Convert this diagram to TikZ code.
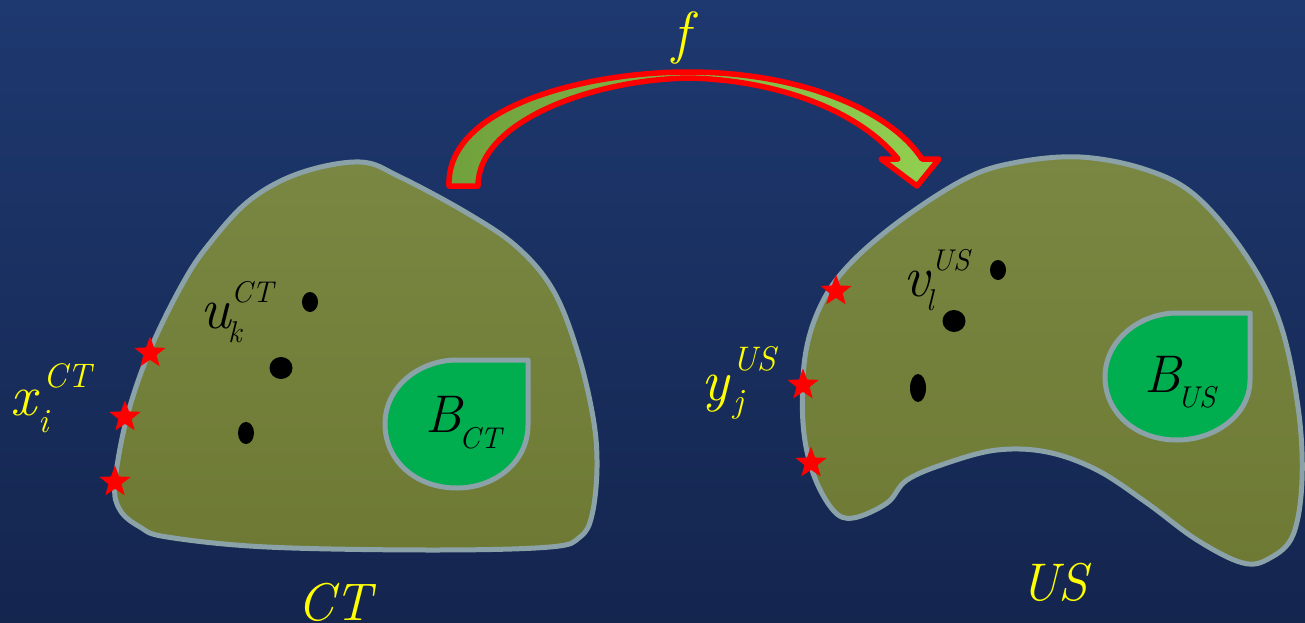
\documentclass[tikz,border=0pt]{standalone}
\usetikzlibrary{shapes.geometric}
\definecolor{bgtop}{RGB}{30,57,112}
\definecolor{bgbot}{RGB}{20,37,78}
\definecolor{oltop}{RGB}{121,135,66}
\definecolor{olbot}{RGB}{110,122,52}
\definecolor{edge}{RGB}{138,162,168}
\definecolor{bgreen}{RGB}{0,174,80}
\definecolor{arrL}{RGB}{112,160,60}
\definecolor{arrR}{RGB}{146,208,80}
\definecolor{ylw}{RGB}{255,255,0}
\begin{document}
\begin{tikzpicture}[x=1pt,y=-1pt,
  big/.style={anchor=base west,inner sep=0pt,font=\fontsize{58}{62}\selectfont\itshape},
  mid/.style={anchor=base west,inner sep=0pt,font=\fontsize{53}{58}\selectfont\itshape},
  small/.style={anchor=base west,inner sep=0pt,font=\fontsize{34}{38}\selectfont\itshape},
  tiny/.style={anchor=base west,inner sep=0pt,font=\fontsize{30}{34}\selectfont\itshape},
  starmark/.style={star,star points=5,star point ratio=2.4,fill=red,draw=none,minimum size=33pt,inner sep=0pt},
  dotmark/.style={ellipse,fill=black,draw=none,inner sep=0pt},
  blob/.style={draw=edge,line width=5pt,top color=oltop,bottom color=olbot},
  drop/.style={draw=edge,line width=5pt,fill=bgreen,line join=round}]
\useasboundingbox (0,0) rectangle (1305,623);
\shade[top color=bgtop,bottom color=bgbot] (0,0) rectangle (1305,623);

% CT region
\draw[blob] plot[smooth cycle,tension=0.6] coordinates {
 (360,162) (400,177) (467,213) (517,247) (553,290) (577,350) (593,417) (597,467)
 (592,515) (580,537) (550,547) (433,550) (267,547) (167,537) (140,527) (120,510)
 (115,483) (127,417) (150,350) (183,283) (210,243) (250,200) (300,173)};
% US region
\draw[blob] plot[smooth cycle,tension=0.6] coordinates {
 (1080,157) (1147,170) (1197,197) (1247,257) (1280,323) (1298,407) (1302,480)
 (1293,535) (1270,558) (1243,563) (1197,540) (1147,503) (1097,470) (1047,452)
 (997,450) (947,463) (907,480) (887,503) (853,518) (833,510) (813,473) (803,423)
 (805,357) (820,307) (847,267) (897,223) (963,180) (1013,163)};

% B regions (teardrops)
\draw[drop] (528,360) -- (528,425) .. controls (528,462) and (495,488) .. (457,488)
  .. controls (415,488) and (385,460) .. (385,424) .. controls (385,386) and (420,360) .. (457,360) -- cycle;
\draw[drop] (1250,313) -- (1250,380) .. controls (1250,415) and (1215,440) .. (1177,440)
  .. controls (1135,440) and (1105,412) .. (1105,377) .. controls (1105,340) and (1140,313) .. (1177,313) -- cycle;

% curved block arrow f
\draw[draw=red,line width=5.5pt,line join=round,left color=arrL,right color=arrR]
 (449,186) .. controls (446,105) and (590,72) .. (688,72)
 .. controls (800,72) and (890,110) .. (922,159) -- (939,159) -- (917,186) -- (881,159) -- (898,159)
 .. controls (860,112) and (780,80) .. (688,78)
 .. controls (590,80) and (478,122) .. (478,186) -- cycle;

% dots
\node[dotmark,minimum width=16pt,minimum height=20pt] (c1) at (310,302) {};
\node[dotmark,minimum width=23pt,minimum height=22pt] (c2) at (281,368) {};
\node[dotmark,minimum width=16pt,minimum height=22pt] (c3) at (246,433) {};
\node[dotmark,minimum width=16pt,minimum height=20pt] (u1) at (998,270) {};
\node[dotmark,minimum width=23pt,minimum height=22pt] (u2) at (954,321) {};
\node[dotmark,minimum width=16pt,minimum height=28pt] (u3) at (918,388) {};

% stars
\node[starmark] (s1) at (150,353) {};
\node[starmark] (s2) at (125,417) {};
\node[starmark] (s3) at (115,482) {};
\node[starmark] (s4) at (836,291) {};
\node[starmark] (s5) at (803,385) {};
\node[starmark] (s6) at (811,463) {};

% labels
\node[big,text=ylw] (fl) at (672,53) {f};
\node[mid,text=ylw] (ctl) at (297,620) {CT};
\node[mid,text=ylw] (usl) at (1020,600) {US};

\node[big,text=ylw] (xm) at (10,415) {x};
\node[small,text=ylw] (xs) at (43,387) {CT};
\node[small,text=ylw] (xb) at (38,432) {i};

\node[big] (um) at (200,328) {u};
\node[tiny] (us) at (231,302) {CT};
\node[tiny] (ub) at (228,342) {k};

\node[big] (vm) at (903,296) {v};
\node[tiny] (vs) at (931,270) {US};
\node[tiny] (vb) at (926,310) {l};

\node[big,text=ylw] (ym) at (701,400) {y};
\node[small,text=ylw] (ys) at (732,370) {US};
\node[small,text=ylw] (yb) at (733,412) {j};

\node[mid] (bcm) at (425,432) {B};
\node[tiny] (bcs) at (459,448) {CT};
\node[mid] (bum) at (1144,392) {B};
\node[tiny] (bus) at (1177,407) {US};
\end{tikzpicture}
\end{document}
